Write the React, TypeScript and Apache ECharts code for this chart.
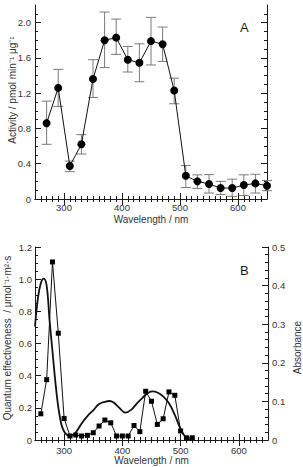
import React, { useEffect, useRef } from "react";
import * as echarts from "echarts";

// Panel A: activity action spectrum (mean with error bars)
const wavelengthsA = [270, 290, 310, 330, 350, 370, 390, 410, 430, 450, 470, 490, 510, 530, 550, 570, 590, 610, 630, 650];
const activity = [0.86, 1.26, 0.375, 0.62, 1.36, 1.8, 1.83, 1.58, 1.545, 1.79, 1.755, 1.23, 0.263, 0.2, 0.17, 0.124, 0.124, 0.158, 0.177, 0.15];
const activityLow = [0.62, 1.05, 0.31, 0.51, 1.15, 1.49, 1.64, 1.44, 1.33, 1.52, 1.56, 1.08, 0.13, 0.12, 0.068, 0.05, 0.03, 0.04, 0.068, 0.094];
const activityHigh = [1.11, 1.47, 0.43, 0.73, 1.58, 2.12, 2.04, 1.73, 1.76, 2.06, 1.95, 1.37, 0.38, 0.274, 0.277, 0.2, 0.225, 0.274, 0.28, 0.21];

// Panel B: quantum effectiveness (squares) and absorbance (smooth curve)
const wavelengthsB = [260, 270, 280, 290, 300, 310, 320, 330, 340, 350, 360, 370, 380, 390, 400, 410, 420, 430, 440, 450, 460, 470, 480, 490, 500, 510, 520];
const quantumEff = [0.163, 0.375, 1.107, 0.664, 0.134, 0.025, 0.031, 0.025, 0.029, 0.045, 0.087, 0.124, 0.107, 0.025, 0.025, 0.025, 0.09, 0.052, 0.303, 0.241, 0.097, 0.132, 0.299, 0.278, 0.056, 0.014, 0.014];

const absWavelengths = [250, 255, 260, 265, 270, 275, 280, 285, 290, 295, 300, 305, 310, 320, 330, 340, 350, 360, 370, 378, 385, 395, 405, 415, 425, 435, 445, 452, 460, 470, 480, 490, 500, 508, 515, 520];
const absorbance = [0.294, 0.367, 0.406, 0.418, 0.4, 0.31, 0.23, 0.15, 0.085, 0.042, 0.022, 0.013, 0.01, 0.02, 0.043, 0.062, 0.077, 0.093, 0.099, 0.101, 0.097, 0.083, 0.071, 0.078, 0.095, 0.11, 0.123, 0.126, 0.123, 0.113, 0.095, 0.065, 0.028, 0.008, 0.002, 0];

// Tick positions
const majorWl = [300, 400, 500, 600];
const minorWl: number[] = [];
for (let w = 260; w < 650; w += 10) minorWl.push(w);
const majorActivity = [0, 0.4, 0.8, 1.2, 1.6, 2.0];
const minorActivity = [0.1, 0.2, 0.3, 0.5, 0.6, 0.7, 0.9, 1.0, 1.1, 1.3, 1.4, 1.5, 1.7, 1.8, 1.9, 2.1];
const majorQE = [0, 0.2, 0.4, 0.6, 0.8, 1.0, 1.2];
const minorQE = [0.05, 0.1, 0.15, 0.25, 0.3, 0.35, 0.45, 0.5, 0.55, 0.65, 0.7, 0.75, 0.85, 0.9, 0.95, 1.05, 1.1, 1.15];
const majorAbs = [0, 0.1, 0.2, 0.3, 0.4, 0.5];
const minorAbs = [0.02, 0.04, 0.06, 0.08, 0.12, 0.14, 0.16, 0.18, 0.22, 0.24, 0.26, 0.28, 0.32, 0.34, 0.36, 0.38, 0.42, 0.44, 0.46, 0.48];

const FONT = "'Liberation Sans', Arial, sans-serif";
const INK = "#1a1a1a";
const LABEL = "#333";

const fmt = (v: number) => (v === 0 ? "0" : v.toFixed(1));

function xAxes(gridIndex: number, labelMargin: number, nameGap: number) {
  const base = { type: "value", gridIndex, min: 250, max: 650, splitLine: { show: false } };
  return [
    {
      ...base,
      position: "bottom",
      axisLine: { show: true, lineStyle: { color: INK, width: 1 } },
      axisTick: { show: true, inside: true, length: 6, customValues: majorWl, lineStyle: { color: INK } },
      axisLabel: { show: true, customValues: majorWl, margin: labelMargin, fontSize: 9.5, color: LABEL, fontFamily: FONT },
      name: "Wavelength / nm",
      nameLocation: "middle",
      nameGap,
      nameMoveOverlap: false,
      nameTextStyle: { fontSize: 10, color: LABEL, fontFamily: FONT },
    },
    {
      ...base,
      position: "bottom",
      axisLine: { show: false },
      axisTick: { show: true, inside: true, length: 3, customValues: minorWl, lineStyle: { color: INK } },
      axisLabel: { show: false },
    },
    {
      ...base,
      position: "top",
      axisLine: { show: true, lineStyle: { color: INK, width: 1 } },
      axisTick: { show: true, inside: true, length: 6, customValues: majorWl, lineStyle: { color: INK } },
      axisLabel: { show: false },
    },
    {
      ...base,
      position: "top",
      axisLine: { show: false },
      axisTick: { show: true, inside: true, length: 3, customValues: minorWl, lineStyle: { color: INK } },
      axisLabel: { show: false },
    },
  ];
}

function yPair(
  gridIndex: number,
  position: string,
  max: number,
  major: number[],
  minor: number[],
  labels: boolean,
  labelMargin: number,
  name?: string,
  nameGap?: number,
  namePadding?: number[]
) {
  const base = { type: "value", gridIndex, min: 0, max, position, splitLine: { show: false } };
  return [
    {
      ...base,
      axisLine: { show: true, lineStyle: { color: INK, width: 1 } },
      axisTick: { show: true, inside: true, length: 6, customValues: major, lineStyle: { color: INK } },
      axisLabel: labels
        ? { show: true, customValues: major, formatter: fmt, margin: labelMargin, fontSize: 9.5, color: LABEL, fontFamily: FONT }
        : { show: false },
      name: name ?? "",
      nameLocation: "middle",
      nameRotate: 90,
      nameGap: nameGap ?? 0,
      nameMoveOverlap: false,
      nameTextStyle: { fontSize: 10, color: LABEL, fontFamily: FONT, padding: namePadding ?? 0 },
    },
    {
      ...base,
      axisLine: { show: false },
      axisTick: { show: true, inside: true, length: 3, customValues: minor, lineStyle: { color: INK } },
      axisLabel: { show: false },
    },
  ];
}

// Vertical error bar with caps
const errorBarItem = (params: any, api: any) => {
  const x = api.value(0);
  const lo = api.coord([x, api.value(1)]);
  const hi = api.coord([x, api.value(2)]);
  const w = 5;
  const style = { stroke: "#7a7a7a", lineWidth: 1 };
  return {
    type: "group",
    children: [
      { type: "line", shape: { x1: lo[0], y1: lo[1], x2: hi[0], y2: hi[1] }, style },
      { type: "line", shape: { x1: lo[0] - w, y1: lo[1], x2: lo[0] + w, y2: lo[1] }, style },
      { type: "line", shape: { x1: hi[0] - w, y1: hi[1], x2: hi[0] + w, y2: hi[1] }, style },
    ],
  };
};

export default function App() {
  const ref = useRef<HTMLDivElement>(null);

  useEffect(() => {
    if (!ref.current) return;
    const chart = echarts.init(ref.current, undefined, { renderer: "svg" });

    const option: any = {
      animation: false,
      backgroundColor: "#ffffff",
      textStyle: { fontFamily: FONT },
      grid: [
        { left: 35, top: 5, width: 232, height: 194, containLabel: false, outerBoundsMode: "none" },
        { left: 35, top: 247, width: 233, height: 193, containLabel: false, outerBoundsMode: "none" },
      ],
      xAxis: [...xAxes(0, 3, 15), ...xAxes(1, 5, 15)],
      yAxis: [
        ...yPair(0, "left", 2.2, majorActivity, minorActivity, true, 4, "Activity / pmol min\u207B\u00B9 \u03BCg\u207B\u00B9", 18, [0, 0, 0, 24]),
        ...yPair(0, "right", 2.2, majorActivity, minorActivity, false, 4),
        ...yPair(1, "left", 1.2, majorQE, minorQE, true, 3, "Quantum effectiveness  / \u03BCmol\u207B\u00B9\u00B7m\u00B2\u00B7s", 23, [0, 0, 0, 11]),
        ...yPair(1, "right", 0.5, majorAbs, minorAbs, true, 4, "Absorbance", 24, [0, 8, 0, 0]),
      ],
      graphic: [
        { type: "text", left: 240, top: 21, style: { text: "A", fontSize: 13, fill: INK, fontFamily: FONT } },
        { type: "text", left: 240, top: 264, style: { text: "B", fontSize: 13, fill: INK, fontFamily: FONT } },
      ],
      series: [
        {
          type: "custom",
          name: "Activity error",
          xAxisIndex: 0,
          yAxisIndex: 0,
          renderItem: errorBarItem,
          encode: { x: 0, y: [1, 2] },
          data: wavelengthsA.map((w, i) => [w, activityLow[i], activityHigh[i]]),
          z: 1,
        },
        {
          type: "line",
          name: "Activity",
          xAxisIndex: 0,
          yAxisIndex: 0,
          data: wavelengthsA.map((w, i) => [w, activity[i]]),
          symbol: "circle",
          symbolSize: 8,
          itemStyle: { color: "#000" },
          lineStyle: { color: "#111", width: 1 },
          z: 3,
        },
        {
          type: "line",
          name: "Absorbance",
          xAxisIndex: 4,
          yAxisIndex: 6,
          data: absWavelengths.map((w, i) => [w, absorbance[i]]),
          smooth: 0.4,
          showSymbol: false,
          lineStyle: { color: "#111", width: 1.8 },
          z: 2,
        },
        {
          type: "line",
          name: "Quantum effectiveness",
          xAxisIndex: 4,
          yAxisIndex: 4,
          data: wavelengthsB.map((w, i) => [w, quantumEff[i]]),
          symbol: "rect",
          symbolSize: 5,
          itemStyle: { color: "#000" },
          lineStyle: { color: "#111", width: 1 },
          z: 3,
        },
      ],
    };

    chart.setOption(option);
    return () => chart.dispose();
  }, []);

  return (
    <div
      ref={ref}
      style={{ position: "fixed", left: 0, top: 0, width: 303, height: 467, background: "#fff" }}
    />
  );
}
